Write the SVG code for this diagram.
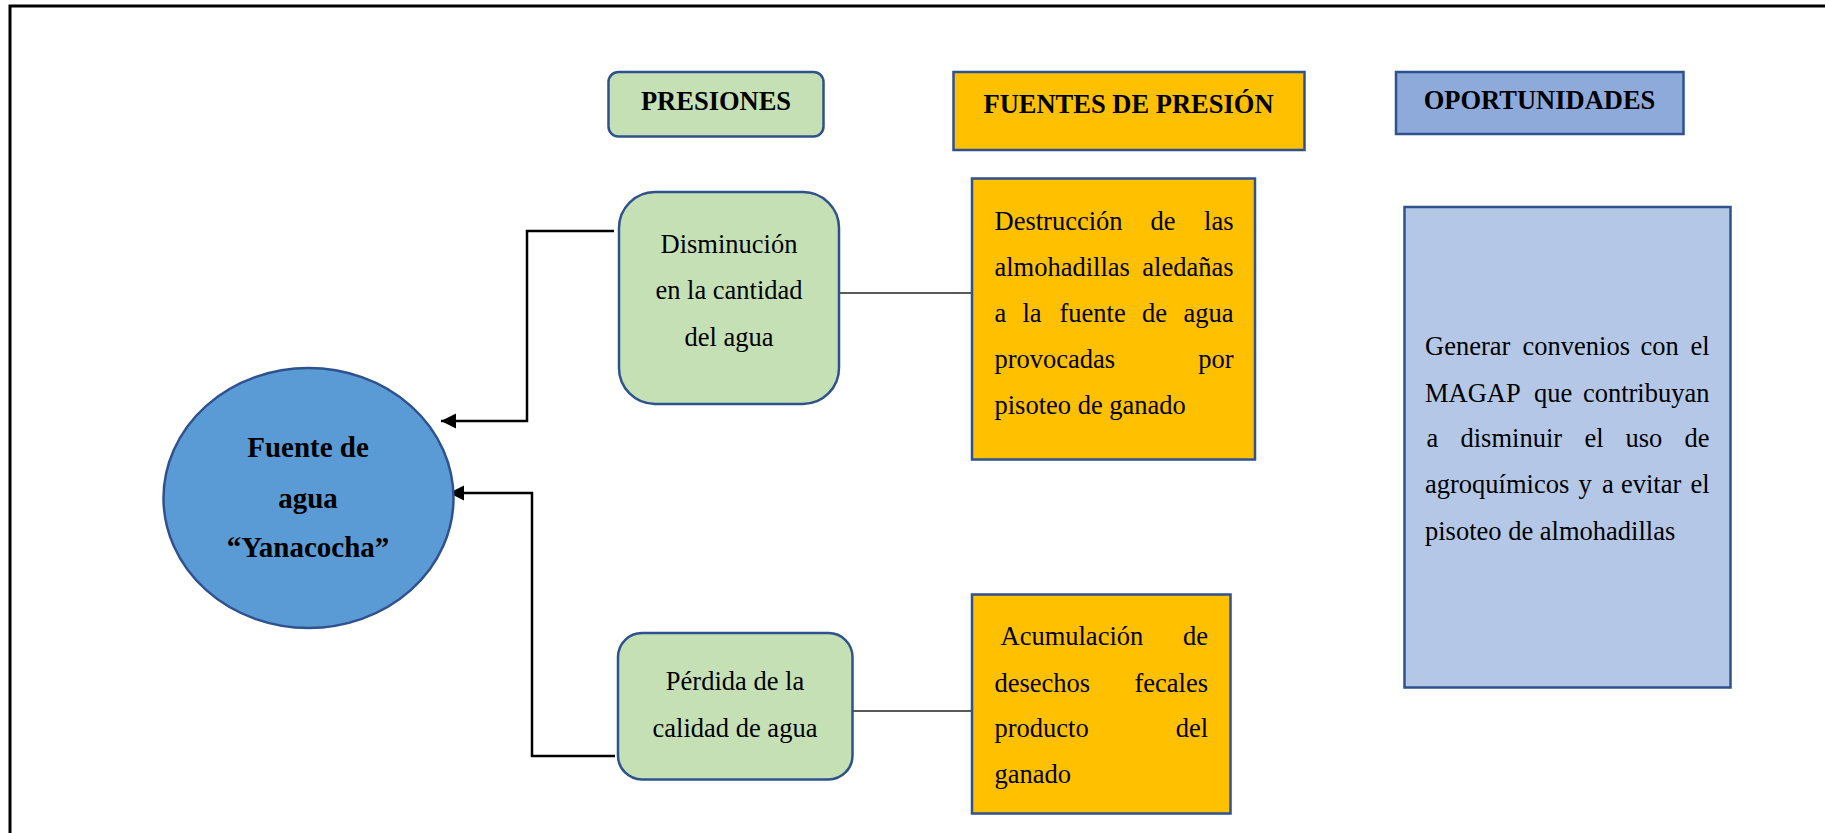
<svg xmlns="http://www.w3.org/2000/svg" width="1825" height="833" viewBox="0 0 1825 833">
<defs>
<marker id="arr" markerUnits="userSpaceOnUse" markerWidth="16" markerHeight="16" refX="15" refY="7.5" orient="auto">
<path d="M0,0 L15,7.5 L0,15 Z" fill="#000"/>
</marker>
</defs>
<style>
.t{font-family:"Liberation Serif","Times New Roman",serif;font-size:26.5px;fill:#000}
.b{font-family:"Liberation Serif","Times New Roman",serif;font-size:26.5px;font-weight:bold;fill:#000}
.bb{font-family:"Liberation Serif","Times New Roman",serif;font-size:29px;font-weight:bold;fill:#000}
.box{stroke:#2F528F;stroke-width:2.5}
.green{fill:#C5E0B4}
.orange{fill:#FFC000}
.conn{fill:none;stroke:#000;stroke-width:2.5}
.thin{fill:none;stroke:#222;stroke-width:1.5}
</style>
<rect width="1825" height="833" fill="#fff"/>
<path d="M10,833 V6 H1825" fill="none" stroke="#000" stroke-width="3"/>

<g id="connectors">
<path class="conn" d="M614,231 H527 V421 H441" marker-end="url(#arr)"/>
<path class="conn" d="M615,756 H532 V493 H449" marker-end="url(#arr)"/>
<path class="thin" d="M839,293 H972"/>
<path class="thin" d="M852,711 H972"/>
</g>

<g id="h-presiones">
<rect class="box green" x="608.5" y="72" width="215" height="64.5" rx="10"/>
<text class="b" x="716" y="110" text-anchor="middle">PRESIONES</text>
</g>
<g id="h-fuentes">
<rect class="box orange" x="953.5" y="72" width="351" height="78"/>
<text class="b" x="1128.5" y="113" text-anchor="middle">FUENTES DE PRESIÓN</text>
</g>
<g id="h-oportunidades">
<rect class="box" fill="#8EAADB" x="1396" y="72" width="287.5" height="62"/>
<text class="b" x="1539.5" y="109" text-anchor="middle">OPORTUNIDADES</text>
</g>

<g id="n-fuente">
<ellipse class="box" fill="#5B9BD5" cx="308.5" cy="498" rx="145" ry="130"/>
<text class="bb" x="308" y="457" text-anchor="middle">Fuente de</text>
<text class="bb" x="308" y="508" text-anchor="middle">agua</text>
<text class="bb" x="308" y="557" text-anchor="middle">“Yanacocha”</text>
</g>

<g id="n-disminucion">
<rect class="box green" x="619" y="192" width="220" height="212" rx="36"/>
<text class="t" x="729" y="253" text-anchor="middle">Disminución</text>
<text class="t" x="729" y="299" text-anchor="middle">en la cantidad</text>
<text class="t" x="729" y="346" text-anchor="middle">del agua</text>
</g>

<g id="n-perdida">
<rect class="box green" x="618" y="633" width="234.5" height="146.5" rx="24"/>
<text class="t" x="735" y="690" text-anchor="middle">Pérdida de la</text>
<text class="t" x="735" y="737" text-anchor="middle">calidad de agua</text>
</g>

<g id="n-destruccion">
<rect class="box orange" x="972" y="178.5" width="283" height="281"/>
<text class="t" x="994.5" y="230">Destrucción</text>
<text class="t" x="1163" y="230" text-anchor="middle">de</text>
<text class="t" x="1233.5" y="230" text-anchor="end">las</text>
<text class="t" x="994.5" y="276">almohadillas</text>
<text class="t" x="1233.5" y="276" text-anchor="end">aledañas</text>
<text class="t" x="994.5" y="322">a</text>
<text class="t" x="1022.5" y="322">la</text>
<text class="t" x="1059.5" y="322">fuente</text>
<text class="t" x="1142" y="322">de</text>
<text class="t" x="1233.5" y="322" text-anchor="end">agua</text>
<text class="t" x="994.5" y="368">provocadas</text>
<text class="t" x="1233.5" y="368" text-anchor="end">por</text>
<text class="t" x="994.5" y="414">pisoteo de ganado</text>
</g>

<g id="n-acumulacion">
<rect class="box orange" x="972" y="594.5" width="258.5" height="219"/>
<text class="t" x="1000.5" y="645">Acumulación</text>
<text class="t" x="1208" y="645" text-anchor="end">de</text>
<text class="t" x="994.5" y="692">desechos</text>
<text class="t" x="1208" y="692" text-anchor="end">fecales</text>
<text class="t" x="994.5" y="737">producto</text>
<text class="t" x="1208" y="737" text-anchor="end">del</text>
<text class="t" x="994.5" y="783">ganado</text>
</g>

<g id="n-generar">
<rect class="box" fill="#B4C7E7" x="1404.5" y="207" width="326" height="480.5"/>
<text class="t" x="1425" y="355">Generar</text>
<text class="t" x="1522.5" y="355">convenios</text>
<text class="t" x="1640.5" y="355">con</text>
<text class="t" x="1709.5" y="355" text-anchor="end">el</text>
<text class="t" x="1425" y="402">MAGAP</text>
<text class="t" x="1534" y="402">que</text>
<text class="t" x="1709.5" y="402" text-anchor="end">contribuyan</text>
<text class="t" x="1426.5" y="447">a</text>
<text class="t" x="1460.5" y="447">disminuir</text>
<text class="t" x="1584.5" y="447">el</text>
<text class="t" x="1625.5" y="447">uso</text>
<text class="t" x="1709.5" y="447" text-anchor="end">de</text>
<text class="t" x="1425" y="493">agroquímicos</text>
<text class="t" x="1578.5" y="493">y</text>
<text class="t" x="1602" y="493">a</text>
<text class="t" x="1621" y="493">evitar</text>
<text class="t" x="1709.5" y="493" text-anchor="end">el</text>
<text class="t" x="1425" y="540">pisoteo de almohadillas</text>
</g>
</svg>
